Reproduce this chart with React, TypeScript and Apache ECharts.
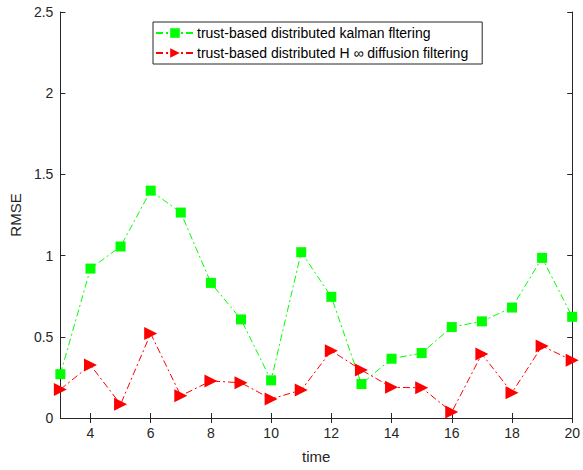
import React, { useEffect, useRef } from "react";
import * as echarts from "echarts";

const times = [3, 4, 5, 6, 7, 8, 9, 10, 11, 12, 13, 14, 15, 16, 17, 18, 19, 20];
const kalman = [0.27, 0.92, 1.056, 1.40, 1.265, 0.832, 0.607, 0.232, 1.021, 0.746, 0.209, 0.365, 0.40, 0.56, 0.595, 0.68, 0.986, 0.623];
const hinf = [0.176, 0.326, 0.084, 0.52, 0.137, 0.228, 0.217, 0.117, 0.172, 0.414, 0.295, 0.189, 0.186, 0.037, 0.394, 0.156, 0.443, 0.355];
const xTicks = [4, 6, 8, 10, 12, 14, 16, 18, 20];
const seriesNames = [
  "trust-based distributed kalman fltering",
  "trust-based distributed H \u221e diffusion filtering",
];

const FONT = "'Liberation Sans', Arial, sans-serif";
const AX = "#262626";

export default function App() {
  const ref = useRef<HTMLDivElement>(null);
  useEffect(() => {
    if (!ref.current) return;
    const chart = echarts.init(ref.current, undefined, { renderer: "svg" });
    const pair = (ys: number[]) => times.map((t, i) => [t, ys[i]]);
    const dash = [7, 3, 2, 3];
    chart.setOption({
      animation: false,
      textStyle: { fontFamily: FONT },
      grid: { left: 58, right: 8, top: 12, bottom: 52, containLabel: false },
      legend: {
        orient: "vertical",
        left: 153,
        top: 22,
        padding: [4, 14, 4, 2],
        itemGap: 6,
        itemWidth: 38,
        itemHeight: 12,
        backgroundColor: "#fff",
        borderColor: AX,
        borderWidth: 1,
        borderRadius: 0,
        textStyle: { fontFamily: FONT, fontSize: 14, color: "#000", padding: [0, 0, 0, -2], lineHeight: 14 },
        data: seriesNames,
      },
      xAxis: [
        {
          type: "value",
          min: 3,
          max: 20,
          interval: 1,
          name: "time",
          nameLocation: "middle",
          nameGap: 31,
          nameTextStyle: { fontFamily: FONT, fontSize: 15, color: AX },
          axisLine: { lineStyle: { color: AX, width: 1 } },
          axisTick: { inside: true, length: 5, customValues: xTicks, lineStyle: { color: AX } },
          axisLabel: { customValues: xTicks, fontFamily: FONT, fontSize: 14, color: AX, margin: 8 },
          splitLine: { show: false },
        },
        {
          type: "value",
          position: "top",
          min: 3,
          max: 20,
          interval: 1,
          axisLine: { show: true, lineStyle: { color: AX, width: 1 } },
          axisTick: { inside: true, length: 5, customValues: xTicks, lineStyle: { color: AX } },
          axisLabel: { show: false },
          splitLine: { show: false },
        },
      ],
      yAxis: [
        {
          type: "value",
          min: 0,
          max: 2.5,
          interval: 0.5,
          name: "RMSE",
          nameLocation: "middle",
          nameGap: 34,
          nameTextStyle: { fontFamily: FONT, fontSize: 15, color: AX },
          axisLine: { show: true, lineStyle: { color: AX, width: 1 } },
          axisTick: { show: true, inside: true, length: 5, lineStyle: { color: AX } },
          axisLabel: { fontFamily: FONT, fontSize: 14, color: AX, margin: 7 },
          splitLine: { show: false },
        },
        {
          type: "value",
          position: "right",
          min: 0,
          max: 2.5,
          interval: 0.5,
          axisLine: { show: true, lineStyle: { color: AX, width: 1 } },
          axisTick: { show: true, inside: true, length: 5, lineStyle: { color: AX } },
          axisLabel: { show: false },
          splitLine: { show: false },
        },
      ],
      series: [
        {
          name: seriesNames[0],
          type: "line",
          data: pair(kalman),
          symbol: "rect",
          symbolSize: 10,
          showAllSymbol: true,
          itemStyle: { color: "#00ff00" },
          lineStyle: { color: "#00ff00", width: 1, type: dash },
          z: 3,
        },
        {
          name: seriesNames[1],
          type: "line",
          data: pair(hinf),
          symbol: "triangle",
          symbolRotate: -90,
          symbolSize: 13,
          showAllSymbol: true,
          itemStyle: { color: "#ff0000" },
          lineStyle: { color: "#ff0000", width: 1, type: dash },
          z: 4,
        },
      ],
    });
    return () => chart.dispose();
  }, []);
  return (
    <div
      ref={ref}
      style={{ position: "fixed", left: 0, top: 0, width: 583, height: 470, background: "#fff" }}
    />
  );
}
